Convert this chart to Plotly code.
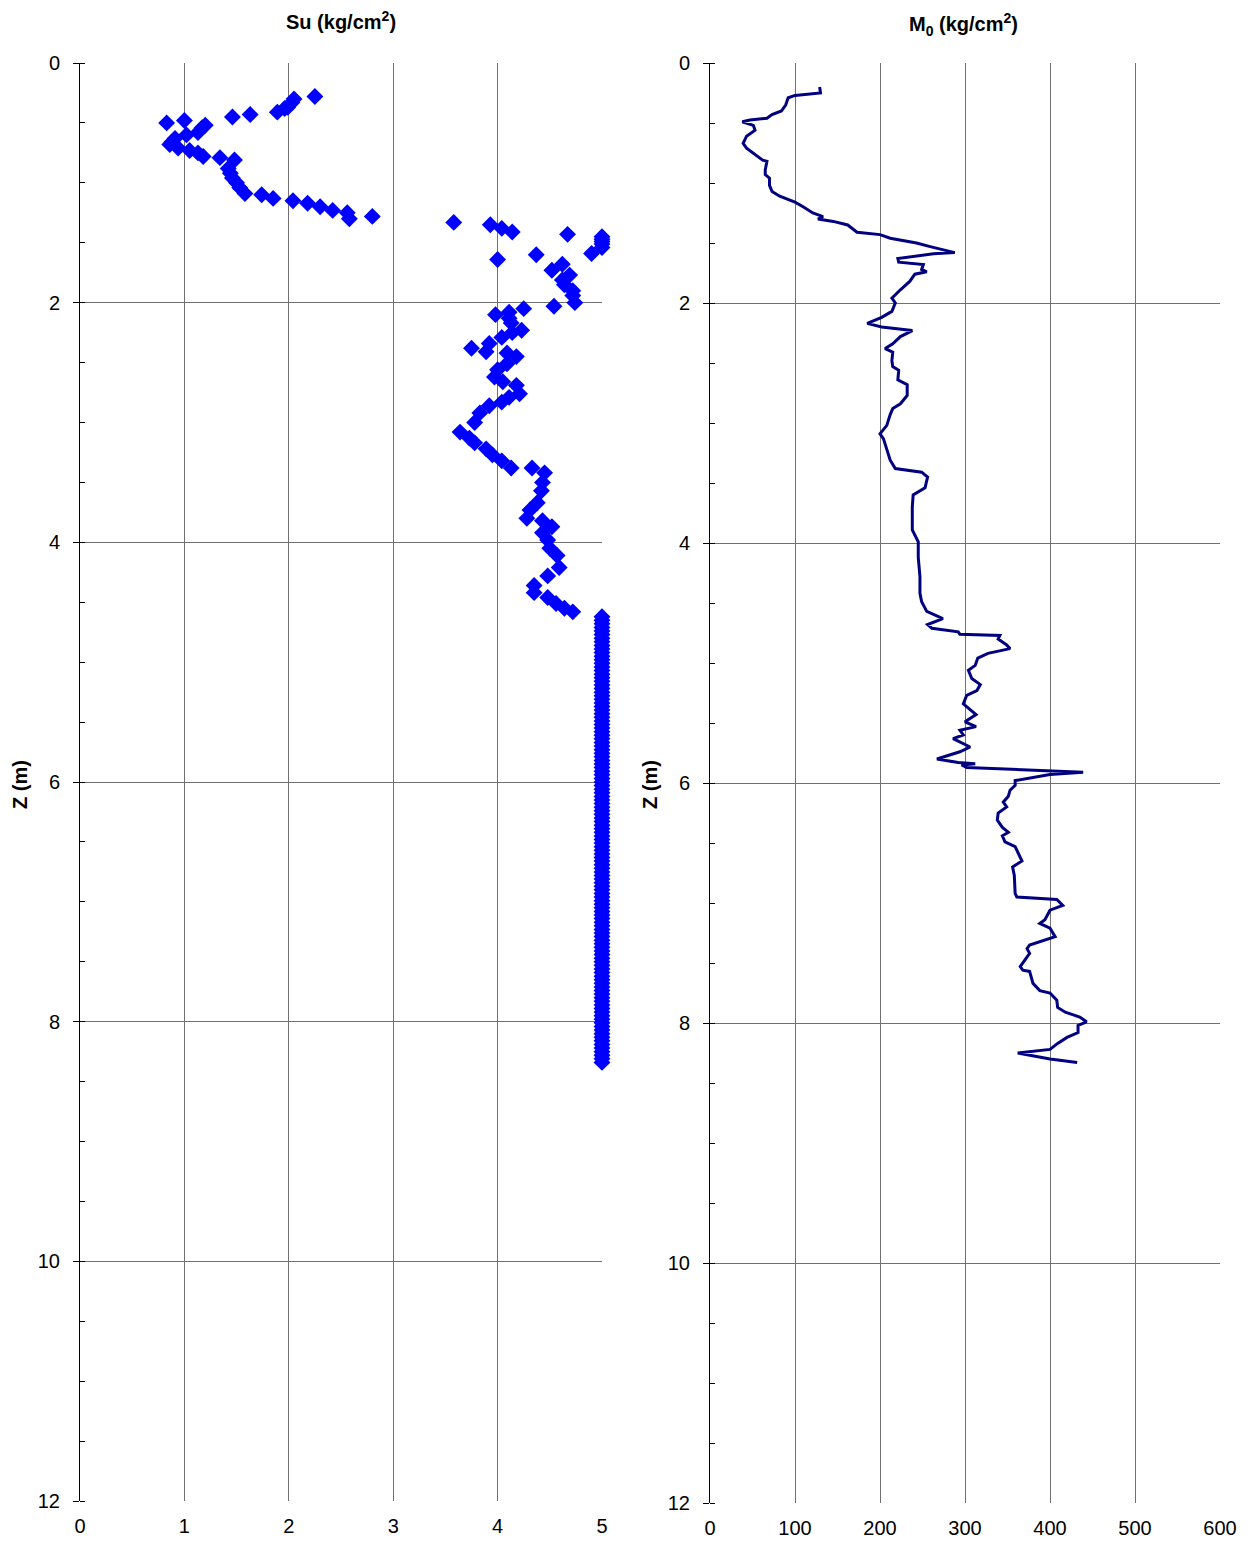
import plotly.graph_objects as go

# Su profile (kg/cm2) vs depth (m)
su_depth = [
    0.28, 0.30, 0.33, 0.37, 0.38, 0.41, 0.43, 0.45, 0.48, 0.50,
    0.52, 0.54, 0.58, 0.60, 0.63, 0.66, 0.68, 0.71, 0.73, 0.75,
    0.78, 0.79, 0.81, 0.88, 0.92, 0.96, 1.00, 1.04, 1.09, 1.10,
    1.13, 1.15, 1.17, 1.20, 1.23, 1.25, 1.30, 1.28, 1.33, 1.35,
    1.38, 1.41, 1.43, 1.45, 1.47, 1.49, 1.51, 1.54, 1.59, 1.60,
    1.64, 1.68, 1.73, 1.77, 1.81, 1.85, 1.90, 1.94, 2.00, 2.03,
    2.05, 2.08, 2.10, 2.13, 2.17, 2.23, 2.25, 2.29, 2.34, 2.38,
    2.41, 2.42, 2.45, 2.51, 2.56, 2.62, 2.66, 2.69, 2.76, 2.79,
    2.83, 2.86, 2.92, 3.00, 3.08, 3.13, 3.17, 3.22, 3.27, 3.32,
    3.38, 3.38, 3.42, 3.50, 3.57, 3.67, 3.73, 3.80, 3.82, 3.87,
    3.92, 3.98, 4.05, 4.11, 4.21, 4.28, 4.36, 4.42, 4.46, 4.51,
    4.55, 4.58,
]
su_value = [
    2.25, 2.05, 2.03, 1.99, 1.96, 1.89, 1.63, 1.46, 1.00, 0.83,
    1.20, 1.17, 1.13, 1.02, 0.91, 0.88, 0.86, 0.94, 1.05, 1.13,
    1.18, 1.34, 1.48, 1.42, 1.44, 1.46, 1.50, 1.53, 1.58, 1.74,
    1.85, 2.04, 2.18, 2.30, 2.42, 2.56, 2.58, 2.80, 3.58, 3.93,
    4.04, 4.14, 4.67, 5.00, 5.00, 5.00, 5.00, 5.00, 4.90, 4.37,
    4.00, 4.62, 4.52, 4.69, 4.62, 4.64, 4.72, 4.72, 4.74, 4.54,
    4.25, 4.11, 3.98, 4.11, 4.13, 4.23, 4.14, 4.04, 3.92, 3.75,
    3.89, 4.09, 4.18, 4.09, 4.00, 3.97, 4.05, 4.18, 4.21, 4.11,
    4.04, 3.92, 3.83, 3.78, 3.64, 3.73, 3.78, 3.89, 3.95, 4.04,
    4.13, 4.33, 4.45, 4.43, 4.42, 4.38, 4.31, 4.28, 4.43, 4.52,
    4.43, 4.48, 4.50, 4.57, 4.59, 4.48, 4.35, 4.35, 4.48, 4.56,
    4.64, 4.72,
]
# readings capped at Su = 5
su_cap = 5.0
su_cap_depth = [
    4.62, 4.65, 4.68, 4.71, 4.74, 4.77, 4.80, 4.83, 4.86, 4.89,
    4.92, 4.95, 4.98, 5.01, 5.04, 5.07, 5.10, 5.13, 5.16, 5.19,
    5.22, 5.25, 5.28, 5.31, 5.34, 5.37, 5.40, 5.43, 5.46, 5.49,
    5.52, 5.55, 5.58, 5.61, 5.64, 5.67, 5.70, 5.73, 5.76, 5.79,
    5.82, 5.85, 5.88, 5.91, 5.94, 5.97, 6.00, 6.03, 6.06, 6.09,
    6.12, 6.15, 6.18, 6.21, 6.24, 6.27, 6.30, 6.33, 6.36, 6.39,
    6.42, 6.45, 6.48, 6.51, 6.54, 6.57, 6.60, 6.63, 6.66, 6.69,
    6.72, 6.75, 6.78, 6.81, 6.84, 6.87, 6.90, 6.93, 6.96, 6.99,
    7.02, 7.05, 7.08, 7.11, 7.14, 7.17, 7.20, 7.23, 7.26, 7.29,
    7.32, 7.35, 7.38, 7.41, 7.44, 7.47, 7.50, 7.53, 7.56, 7.59,
    7.62, 7.65, 7.68, 7.71, 7.74, 7.77, 7.80, 7.83, 7.86, 7.89,
    7.92, 7.95, 7.98, 8.01, 8.04, 8.07, 8.10, 8.13, 8.16, 8.19,
    8.22, 8.25, 8.28, 8.31, 8.34,
]

# M0 profile (kg/cm2) vs depth (m)
m0_depth = [
    0.20, 0.25, 0.27, 0.29, 0.35, 0.40, 0.43, 0.46, 0.475, 0.49,
    0.52, 0.56, 0.61, 0.67, 0.71, 0.75, 0.81, 0.82, 0.89, 0.93,
    0.96, 1.02, 1.07, 1.11, 1.16, 1.20, 1.25, 1.28, 1.30, 1.32,
    1.35, 1.41, 1.43, 1.46, 1.50, 1.53, 1.58, 1.59, 1.63, 1.66,
    1.68, 1.72, 1.74, 1.76, 1.82, 1.89, 1.96, 2.00, 2.07, 2.12,
    2.17, 2.20, 2.23, 2.28, 2.34, 2.38, 2.41, 2.48, 2.53, 2.56,
    2.64, 2.68, 2.77, 2.84, 2.88, 2.93, 3.02, 3.09, 3.13, 3.22,
    3.31, 3.38, 3.41, 3.45, 3.54, 3.60, 3.70, 3.89, 3.99, 4.12,
    4.28, 4.42, 4.49, 4.57, 4.63, 4.68, 4.71, 4.74, 4.76, 4.77,
    4.80, 4.85, 4.88, 4.92, 4.96, 5.02, 5.06, 5.13, 5.18, 5.23,
    5.27, 5.34, 5.39, 5.43, 5.49, 5.53, 5.56, 5.60, 5.63, 5.70,
    5.74, 5.80, 5.83, 5.84, 5.85, 5.87, 5.91, 5.93, 5.98, 6.02,
    6.06, 6.11, 6.16, 6.20, 6.25, 6.31, 6.37, 6.41, 6.44, 6.49,
    6.53, 6.58, 6.65, 6.70, 6.77, 6.92, 6.95, 6.97, 7.02, 7.06,
    7.14, 7.17, 7.21, 7.28, 7.35, 7.38, 7.42, 7.53, 7.56, 7.57,
    7.67, 7.73, 7.75, 7.81, 7.87, 7.91, 7.95, 7.99, 8.02, 8.08,
    8.12, 8.17, 8.22, 8.25, 8.30, 8.33,
]
m0_value = [
    129, 130, 100, 92, 89, 84, 73, 67, 47, 38,
    51, 53, 43, 39, 43, 51, 62, 67, 65, 65,
    70, 70, 73, 82, 100, 110, 121, 133, 127, 145,
    162, 173, 200, 212, 243, 259, 288, 263, 221, 222,
    251, 249, 255, 241, 235, 224, 214, 218, 214, 202,
    185, 202, 238, 224, 215, 206, 215, 214, 215, 222,
    221, 232, 232, 224, 215, 212, 208, 200, 204, 208,
    212, 218, 249, 256, 253, 239, 238, 238, 245, 245,
    247, 247, 249, 255, 274, 256, 261, 292, 294, 341,
    339, 349, 353, 327, 315, 312, 304, 308, 318, 314,
    302, 298, 306, 313, 300, 313, 294, 298, 286, 306,
    294, 267, 292, 312, 296, 302, 439, 400, 359, 359,
    353, 351, 345, 349, 339, 338, 344, 351, 344, 347,
    359, 362, 367, 356, 358, 359, 361, 408, 415, 400,
    394, 388, 400, 406, 376, 373, 376, 365, 368, 376,
    380, 388, 400, 408, 409, 418, 435, 443, 433, 433,
    420, 409, 400, 362, 400, 432,
]

W, H = 1250, 1543
PAGE_PAD = 8  # default body margin of the html page
FONT = "Liberation Sans, Arial, sans-serif"
GRID = "#707070"


def px_x(v):
    return (v - PAGE_PAD) / W


def px_y(v):
    return 1 - (v - PAGE_PAD) / H


fig = go.Figure()

fig.add_trace(
    go.Scatter(
        x=su_value + [su_cap] * len(su_cap_depth),
        y=su_depth + su_cap_depth,
        mode="markers",
        marker={"symbol": "diamond", "size": 13, "color": "#0000FF", "line": {"width": 0}},
        cliponaxis=False,
        xaxis="x",
        yaxis="y",
    )
)

fig.add_trace(
    go.Scatter(
        x=m0_value,
        y=m0_depth,
        mode="lines",
        line={"color": "#000080", "width": 3},
        xaxis="x2",
        yaxis="y2",
    )
)

tick_font = {"family": FONT, "size": 20, "color": "black"}

x_common = {
    "showgrid": True,
    "gridcolor": GRID,
    "gridwidth": 1,
    "showline": False,
    "zeroline": False,
    "ticks": "",
    "tickfont": tick_font,
    "ticklabelstandoff": 11,
    "automargin": False,
}
x_top = {
    "side": "top",
    "showline": True,
    "linecolor": "black",
    "linewidth": 1,
    "ticks": "outside",
    "ticklen": 6,
    "tickcolor": "black",
    "showticklabels": False,
    "showgrid": False,
    "zeroline": False,
    "automargin": False,
}
y_common = {
    "range": [12, 0],
    "tickmode": "linear",
    "tick0": 0,
    "dtick": 2,
    "showgrid": True,
    "gridcolor": GRID,
    "gridwidth": 1,
    "showline": True,
    "linecolor": "black",
    "linewidth": 1,
    "zeroline": False,
    "ticks": "outside",
    "ticklen": 6,
    "tickcolor": "black",
    "tickfont": tick_font,
    "ticklabelstandoff": 9,
    "automargin": False,
    "minor": {"dtick": 0.5, "ticks": "inside", "ticklen": 5, "tickcolor": "black", "showgrid": False},
}

fig.update_layout(
    width=W,
    height=H,
    margin={"l": 0, "r": 0, "t": 0, "b": 0, "autoexpand": False},
    paper_bgcolor="white",
    plot_bgcolor="white",
    showlegend=False,
    font={"family": FONT, "color": "black"},
    xaxis={**x_common, "domain": [px_x(80), px_x(602)], "range": [0, 5], "dtick": 1, "anchor": "y"},
    xaxis3={**x_top, "overlaying": "x", "anchor": "y", "range": [0, 5], "dtick": 1},
    yaxis={**y_common, "domain": [px_y(1501), px_y(63)], "anchor": "x"},
    xaxis2={**x_common, "domain": [px_x(710), px_x(1220)], "range": [0, 600], "dtick": 100, "anchor": "y2"},
    xaxis4={**x_top, "overlaying": "x2", "anchor": "y2", "range": [0, 600], "dtick": 100},
    yaxis2={**y_common, "domain": [px_y(1503), px_y(63)], "anchor": "x2"},
)

title_font = {"family": FONT, "size": 20, "color": "black"}
fig.add_annotation(
    text="<b>Su (kg/cm<sup>2</sup>)</b>", x=px_x(341), y=px_y(21),
    xanchor="center", yanchor="middle",
    xref="paper", yref="paper", showarrow=False, font=title_font,
)
fig.add_annotation(
    text="<b>M<sub>0</sub> (kg/cm<sup>2</sup>)</b>", x=px_x(963), y=px_y(24),
    xanchor="center", yanchor="middle",
    xref="paper", yref="paper", showarrow=False, font=title_font,
)
for xp in (20, 650):
    fig.add_annotation(
        text="<b>Z (m)</b>", x=px_x(xp), y=px_y(784), textangle=-90,
        xanchor="center", yanchor="middle",
        xref="paper", yref="paper", showarrow=False, font=title_font,
    )

fig.write_html("out.html")
